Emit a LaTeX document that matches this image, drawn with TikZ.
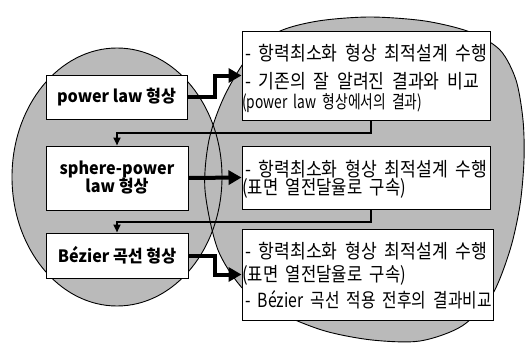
\documentclass[tikz,border=0pt]{standalone}
\usepackage{fontspec}
\usetikzlibrary{arrows.meta}
\newfontfamily\krR[FakeStretch=0.88,WordSpace=2]{Noto Sans CJK KR}
\newfontfamily\krB[FakeStretch=0.95]{Noto Sans CJK KR}
\begin{document}
\begin{tikzpicture}[x=1pt,y=-1pt,
  area/.style={fill=black!27},
  rim/.style={draw=black,line width=0.9pt},
  leftbox/.style={draw=black,line width=1pt,fill=white,inner sep=0pt,align=center,
    font={\krB\bfseries\fontsize{17}{18}\selectfont}},
  rightbox/.style={draw=black,line width=1pt,fill=white,inner sep=0pt},
  rtext/.style={anchor=west,inner sep=0pt,font={\krR\fontsize{19.5}{21}\selectfont}},
  rsmall/.style={rtext,font={\krR\fontsize{18}{19}\selectfont}},
  mainlink/.style={line width=4pt,-{Triangle[length=13pt,width=14pt]}},
  backlink/.style={line width=2pt,-{Triangle[length=8pt,width=7pt]}}]
\useasboundingbox (0,0) rectangle (525,343);
\def\rightshape{plot[smooth cycle,tension=0.5] coordinates {
  (318,21) (370,17) (425,21) (470,32) (500,50) (516,80) (523,120) (524,160)
  (520,205) (510,250) (492,295) (462,326) (420,341) (372,340) (325,331)
  (282,314) (245,291) (218,250) (205,190) (209,140) (224,97) (248,57) (278,32)}}
% circles
\path[area] (117,177) ellipse[x radius=105,y radius=129];
\path[area] \rightshape;
\draw[rim] (117,177) ellipse[x radius=105,y radius=129];
\draw[rim] \rightshape;
% left boxes
\node[leftbox,minimum width=141pt,minimum height=44pt] (pw) at (116.5,97) {power law 형상};
\node[leftbox,minimum width=142pt,minimum height=64pt] (sp) at (117,178) {sphere-power\\law 형상};
\node[leftbox,minimum width=142pt,minimum height=45pt] (bz) at (117,255.5) {Bézier 곡선 형상};
% right boxes
\node[rightbox,minimum width=248pt,minimum height=89pt] (b1) at (366,75.5) {};
\node[rightbox,minimum width=248pt,minimum height=63pt] (b2) at (366,177.5) {};
\node[rightbox,minimum width=251pt,minimum height=91pt] (b3) at (367.5,274.5) {};
% right texts
\node[rtext] (t11) at (245,53) {- 항력최소화 형상 최적설계 수행};
\node[rtext] (t12) at (245,81) {- 기존의 잘 알려진 결과와 비교};
\node[rsmall] (t13) at (242,103) {\scalebox{0.87}[1]{(power law 형상에서의 결과)}};
\node[rtext] (t21) at (245,169) {- 항력최소화 형상 최적설계 수행};
\node[rtext] (t22) at (242,188) {\scalebox{0.97}[1]{(표면 열전달율로 구속)}};
\node[rtext] (t31) at (245,251) {- 항력최소화 형상 최적설계 수행};
\node[rtext] (t32) at (242,275) {\scalebox{0.97}[1]{(표면 열전달율로 구속)}};
\node[rtext] (t33) at (245,300) {\scalebox{0.92}[1]{- Bézier 곡선 적용 전후의 결과비교}};
% connectors
\draw[mainlink] (pw.east) -- ++(27,0) |- (b1.west);
\draw[mainlink] (sp.east) -- (b2.west);
\draw[mainlink] (bz.east) -- ++(26,0) |- (b3.west);
\draw[backlink] ([xshift=5pt]b1.south) -- ++(0,12) -| (sp.north);
\draw[backlink] ([xshift=5pt]b2.south) -- ++(0,12) -| (bz.north);
\end{tikzpicture}
\end{document}
